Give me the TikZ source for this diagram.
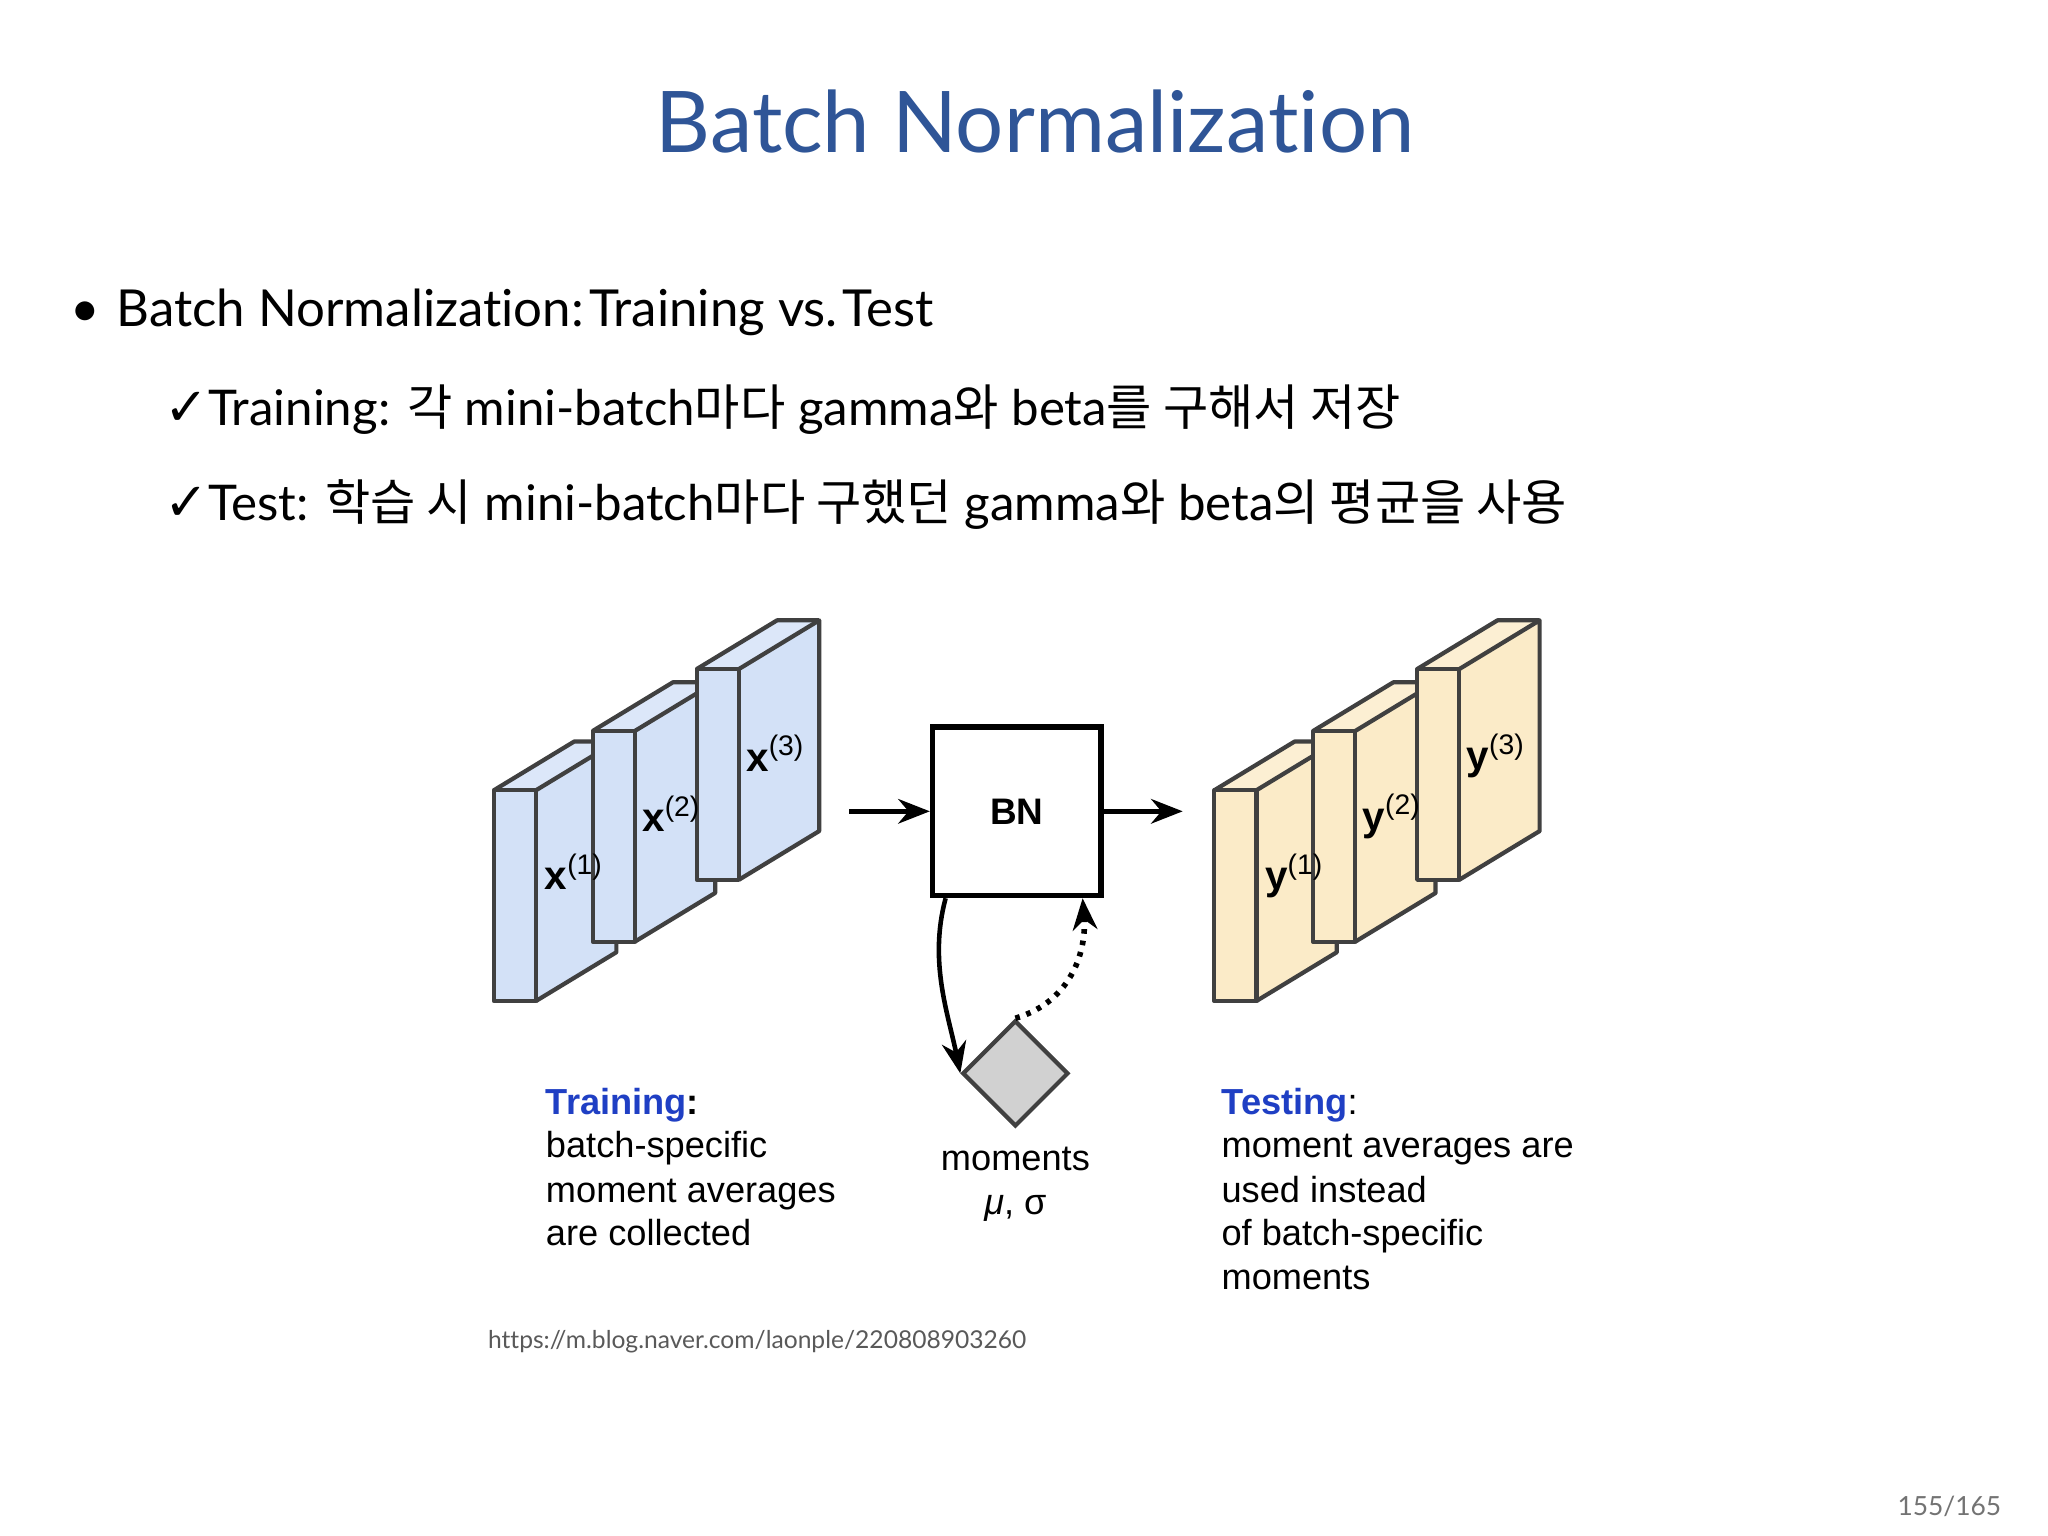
\documentclass[tikz,border=0pt]{standalone}
\usepackage{fontspec}
\setmainfont{Lato}[Ligatures=NoCommon]
\newfontfamily\kr{Noto Sans CJK KR}
\newfontfamily\dv{DejaVu Sans}
\newfontfamily\hv{Liberation Sans}
\usetikzlibrary{arrows.meta}
\definecolor{titleblue}{HTML}{2F5597}
\definecolor{slabblue}{HTML}{D3E1F7}
\definecolor{slabyel}{HTML}{FBEBC8}
\definecolor{lblblue}{HTML}{1F3FC4}
\tikzset{
  edge/.style={draw=black!75,line width=1.2pt,line join=round},
  lbl/.style={font=\hv\fontsize{10.3}{12}\selectfont,anchor=base west,inner sep=0pt},
  arr/.style={-{Stealth[length=9pt,width=7pt]},line width=1.3pt},
}
\newcommand{\slab}[4]{% left, top, fill, name
  \fill[#3] (#1,#2) rectangle ++(32,160);
  \fill[#3] (#1+32,#2) -- ++(61,-37) -- ++(0,160) -- ++(-61,37) -- cycle;
  \fill[#3!80!white] (#1,#2) -- ++(32,0) -- ++(61,-37) -- ++(-32,0) -- cycle;
  \draw[edge] (#1,#2) rectangle ++(32,160);
  \draw[edge] (#1+32,#2) -- ++(61,-37) -- ++(0,160) -- ++(-61,37);
  \draw[edge] (#1,#2) -- ++(61,-37) -- ++(32,0);
  \coordinate (#4) at (#1+62,#2+62);
}
\newcommand{\slabl}[2]{\textbf{#1}\textsuperscript{(#2)}}
\begin{document}
\begin{tikzpicture}[x=0.01317cm,y=-0.01317cm]
\useasboundingbox (0,0) rectangle (1555,1166);
\fill[white] (0,0) rectangle (1555,1166);
\node[anchor=base,font=\fontsize{24.2}{28}\selectfont,text=titleblue,inner sep=0pt] (title) at (786,116) {Batch Normalization};
\node[anchor=base west,inner sep=0pt,font=\fontsize{14.5}{18}\selectfont] (dot) at (53,248) {•};
\node[anchor=base west,inner sep=0pt,font=\fontsize{14.5}{18}\selectfont] (b1) at (88,248) {Batch Normalization:\hspace{0.1em}Training vs.\hspace{0.1em}Test};
\node[anchor=base west,inner sep=0pt,font=\fontsize{14}{18}\selectfont] (b2) at (124,323) {{\dv\fontsize{15}{16}\selectfont ✓}Training: {\kr 각} mini-batch{\kr 마다} gamma{\kr 와} beta{\kr 를 구해서 저장}};
\node[anchor=base west,inner sep=0pt,font=\fontsize{14}{18}\selectfont] (b3) at (124,395) {{\dv\fontsize{15}{16}\selectfont ✓}Test: {\kr 학습 시} mini-batch{\kr 마다 구했던} gamma{\kr 와} beta{\kr 의 평균을 사용}};

\slab{375}{600}{slabblue}{c1}
\slab{450}{555}{slabblue}{c2}
\slab{529}{508}{slabblue}{c3}
\slab{922}{600}{slabyel}{d1}
\slab{997}{555}{slabyel}{d2}
\slab{1076}{508}{slabyel}{d3}
\tikzset{sl/.style={font=\hv\fontsize{11.5}{14}\selectfont,inner sep=0pt}}
\node[sl] (x1) at (436,662) {\slabl{x}{1}};
\node[sl] (x2) at (510,618) {\slabl{x}{2}};
\node[sl] (x3) at (589,572) {\slabl{x}{3}};
\node[sl] (y1) at (983,665) {\slabl{y}{1}};
\node[sl] (y2) at (1057,620) {\slabl{y}{2}};
\node[sl] (y3) at (1136,574) {\slabl{y}{3}};

\node[draw,line width=1.5pt,minimum width=128*0.01317cm,minimum height=128*0.01317cm,font=\hv\bfseries\fontsize{10.5}{13}\selectfont] (bn) at (772,616) {BN};
\coordinate (inA) at (645,616);
\coordinate (outB) at (898,616);
\draw[arr] (inA) -- (bn.west);
\draw[arr] (bn.east) -- (outB);
\node[draw=black!75,fill=black!18,line width=1.2pt,minimum width=56*0.01317cm,minimum height=56*0.01317cm,rotate=45] (mom) at (771,815) {};
\draw[arr] ([xshift=-54*0.01317cm]bn.south) .. controls (705,730) and (720,770) .. (mom.north west);
\draw[arr,dotted,line width=1.6pt] (mom.north east) .. controls (815,760) and (825,720) .. ([xshift=50*0.01317cm]bn.south);

\node[lbl] (t1) at (414,846) {\textcolor{lblblue}{\bfseries Training}\textbf{:}};
\node[lbl] (t2) at (414,879) {batch-specific};
\node[lbl] (t3) at (414,913) {moment averages};
\node[lbl] (t4) at (414,946) {are collected};
\node[lbl,anchor=base] (m1) at (771,889) {moments};
\node[lbl,anchor=base] (m2) at (771,922) {\textit{μ}, σ};
\node[lbl] (s1) at (927,846) {\textcolor{lblblue}{\bfseries Testing}:};
\node[lbl] (s2) at (927,879) {moment averages are};
\node[lbl] (s3) at (927,913) {used instead};
\node[lbl] (s4) at (927,946) {of batch-specific};
\node[lbl] (s5) at (927,979) {moments};
\node[anchor=base west,inner sep=0pt,font=\fontsize{7}{9}\selectfont,text=black!65] (url) at (370,1024) {https://m.blog.naver.com/laonple/220808903260};
\node[anchor=base east,inner sep=0pt,font=\fontsize{7.5}{9}\selectfont,text=black!55] (pg) at (1520,1151) {155/165};
\end{tikzpicture}
\end{document}
